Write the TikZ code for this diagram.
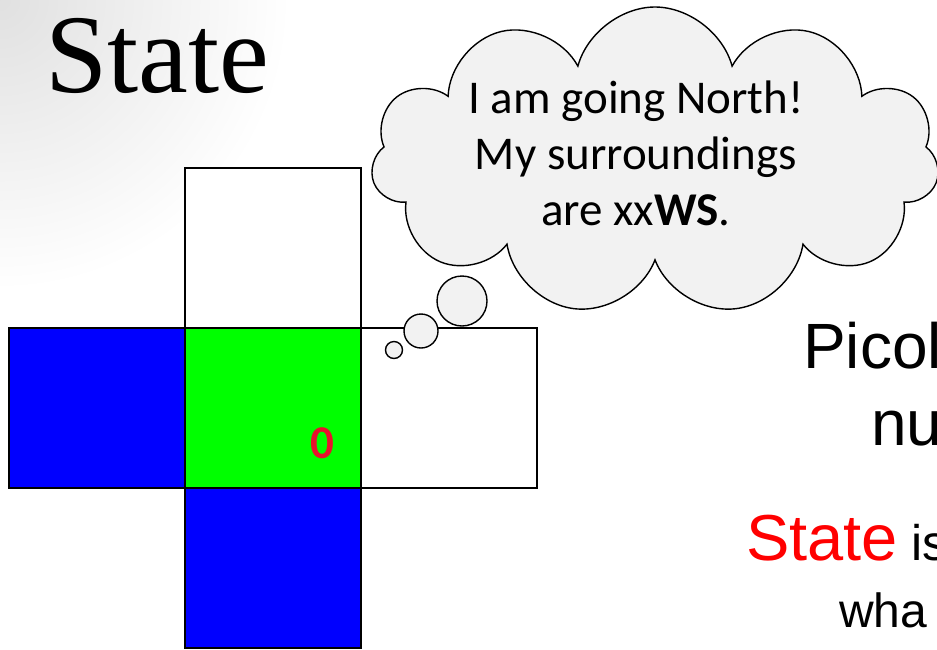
\documentclass[tikz,border=0pt]{standalone}
\usepackage{fontspec}
\setmainfont{Liberation Serif}
\newfontfamily\cloudfont{Carlito}
\newfontfamily\slidefont{Liberation Sans}
\usetikzlibrary{positioning,shapes.symbols}
\definecolor{cellblue}{RGB}{0,0,255}
\definecolor{cellgreen}{RGB}{0,255,0}
\definecolor{zerored}{RGB}{232,17,45}
\definecolor{cloudgray}{RGB}{242,242,242}

\begin{document}
\begin{tikzpicture}[x=1pt,y=-1pt,
    cell/.style={draw,line width=2.5pt,minimum width=176pt,minimum height=160pt,inner sep=0pt,outer sep=0pt},
    puff/.style={draw,fill=cloudgray,line width=1.4pt,inner sep=0pt},
    slidetext/.style={anchor=base west,inner sep=0pt}]
    \useasboundingbox (0,0) rectangle (937,649);
    \clip (0,0) rectangle (937,649);

    % Background
    \shade[inner color=black!12,outer color=white] (0,0) circle (290);

    % Title
    \node[slidetext,font=\fontsize{112}{112}\selectfont] (title) at (45,92) {State};

    % Cells around the robot
    \node[cell,fill=cellgreen] (here) at (273,408) {};
    \node[cell,fill=cellblue,left=0pt of here] (west) {};
    \node[cell,fill=cellblue,below=0pt of here] (south) {};
    \node[cell,fill=white,above=0pt of here] (north) {};
    \node[cell,fill=white,right=0pt of here] (east) {};
    \node[font=\cloudfont\bfseries\fontsize{47}{47}\selectfont,text=zerored] (zero) at (322,443) {0};

    % Thought bubbles
    \node[puff,circle,minimum size=17pt] (tiny) at (394,350) {};
    \node[puff,circle,minimum size=34pt] (small) at (421,331) {};
    \node[puff,circle,minimum size=50pt] (big) at (462,301) {};

    % Cloud
    \node[puff,cloud,cloud puffs=11,aspect=1.8,minimum width=568pt,minimum height=308pt] (cloud) at (655,161) {};
    \node[font=\cloudfont\fontsize{47}{56}\selectfont,align=center] (thought) at (636,153)
        {I am going North!\\My surroundings\\are xx\textbf{WS}.};

    % Slide text
    \node[slidetext,font=\slidefont\fontsize{64}{64}\selectfont] (picol) at (803,368) {Picol};
    \node[slidetext,font=\slidefont\fontsize{64}{64}\selectfont] (nu) at (871,445) {nu};
    \node[slidetext,font=\slidefont\fontsize{65}{65}\selectfont] (staterd) at (746,560)
        {\textcolor{red}{State}{\fontsize{50}{50}\selectfont\ is}};
    \node[slidetext,font=\slidefont\fontsize{48}{48}\selectfont] (wha) at (839,627) {wha};
\end{tikzpicture}
\end{document}
